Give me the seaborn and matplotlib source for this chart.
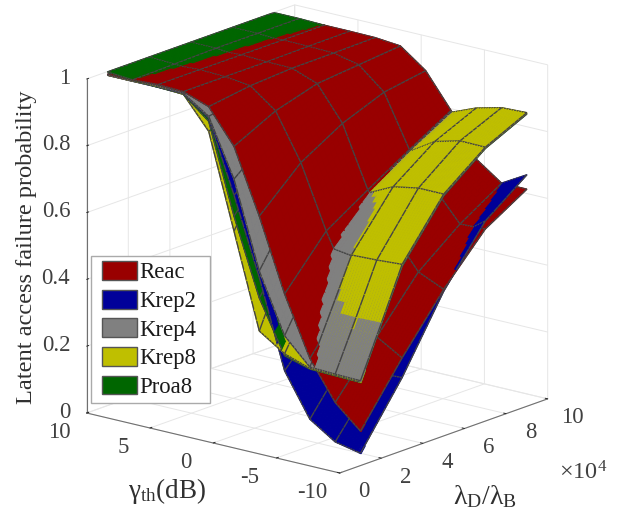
import numpy as np
import matplotlib
matplotlib.use("Agg")
import matplotlib.pyplot as plt
import seaborn as sns
from matplotlib.patches import Patch, Rectangle
from matplotlib.legend_handler import HandlerPatch
from mpl_toolkits.mplot3d import proj3d
from mpl_toolkits.mplot3d.art3d import Poly3DCollection, Line3DCollection

gamma_db = [-10, -8, -6, -4, -2, 0, 2, 4, 6, 8, 10]
lambda_ratio = [1, 3, 5, 7, 9]

reac = [[.103, .278, .439, .575, .650],
        [.171, .323, .473, .572, .650],
        [.285, .447, .569, .660, .704],
        [.460, .604, .683, .759, .832],
        [.675, .791, .864, .913, .933],
        [.866, .928, .965, .977, .989],
        [.967, .985, .993, .994, .996],
        [.994, .994, .994, .996, .997],
        [.997, .997, .997, .997, .997],
        [.993, .993, .993, .993, .993],
        [.992, .992, .992, .992, .992]]
krep2 = [[.037, .219, .433, .599, .693],
         [.053, .215, .407, .543, .650],
         [.103, .270, .427, .548, .660],
         [.230, .366, .508, .629, .731],
         [.491, .609, .690, .761, .812],
         [.720, .812, .872, .913, .933],
         [.933, .953, .963, .974, .984],
         [.989, .989, .989, .989, .989],
         [.989, .989, .989, .989, .989],
         [.989, .989, .989, .989, .989],
         [.989, .989, .989, .989, .989]]
krep4 = [[.254, .554, .721, .818, .877],
         [.256, .548, .722, .819, .874],
         [.259, .548, .702, .793, .849],
         [.335, .559, .674, .754, .827],
         [.511, .710, .791, .852, .893],
         [.768, .872, .913, .943, .963],
         [.938, .963, .979, .986, .989],
         [.989, .991, .991, .992, .994],
         [.994, .994, .994, .994, .994],
         [.990, .990, .990, .990, .990],
         [.990, .990, .990, .990, .990]]
krep8 = [[.250, .558, .724, .820, .879],
         [.252, .553, .724, .821, .876],
         [.255, .550, .710, .801, .857],
         [.281, .508, .673, .753, .826],
         [.331, .629, .751, .832, .872],
         [.612, .832, .893, .933, .953],
         [.893, .953, .974, .984, .984],
         [.986, .989, .989, .989, .989],
         [.991, .991, .991, .991, .991],
         [.989, .989, .989, .989, .989],
         [.989, .989, .989, .989, .989]]
proa8 = [[.249, .552, .719, .816, .875],
         [.251, .546, .720, .817, .872],
         [.253, .546, .700, .790, .846],
         [.275, .427, .559, .660, .741],
         [.430, .609, .731, .812, .862],
         [.657, .812, .882, .923, .953],
         [.923, .953, .968, .979, .984],
         [.986, .989, .989, .989, .989],
         [.989, .990, .991, .994, .997],
         [.993, .996, .999, .999, .999],
         [.999, .999, .999, .999, .999]]

series_names = ["Reac", "Krep2", "Krep4", "Krep8", "Proa8"]
series_values = [reac, krep2, krep4, krep8, proa8]
series_colors = ["#990000", "#000099", "#808080", "#BFBF00", "#006600"]

gamma_ticks = [10, 5, 0, -5, -10]
gamma_ticklabels = ["10", "5", "0", "-5", "-10"]
lambda_ticks = [0, 2, 4, 6, 8, 10]
lambda_ticklabels = ["0", "2", "4", "6", "8", "10"]
prob_ticks = [0, 0.2, 0.4, 0.6, 0.8, 1]
prob_ticklabels = ["0", "0.2", "0.4", "0.6", "0.8", "1"]

sns.set_theme(style="white")
plt.rcParams["font.family"] = ["Liberation Serif", "DejaVu Serif"]
plt.rcParams["mathtext.fontset"] = "custom"
plt.rcParams["mathtext.rm"] = "Liberation Serif"
plt.rcParams["mathtext.it"] = "Liberation Serif:italic"
plt.rcParams["mathtext.fallback"] = "stix"
plt.rcParams["grid.color"] = "#e6e6e6"
plt.rcParams["grid.linewidth"] = 0.7

W, H = 621, 512
TEXT = "#404040"
MESH = "#444444"
TICK_FS = 16.4
fig = plt.figure(figsize=(W / 100, H / 100), dpi=100, facecolor="white")
ax = fig.add_axes([0, 0, 1, 1], projection="3d", computed_zorder=False, proj_type="ortho")
ax.set_facecolor("none")
ax.view_init(elev=16.9, azim=-50.8)
ax.set_xlim(10, -10, view_margin=0)
ax.set_ylim(0, 10, view_margin=0)
ax.set_zlim(0, 1, view_margin=0)
aspect = (326.4, 329, 349)
ax.set_box_aspect(aspect, zoom=1.0)

# tessellate each bilinear patch so that surfaces intersect correctly
N = 10
g_arr = np.array(gamma_db, float)
l_arr = np.array(lambda_ratio, float)
g_f = np.concatenate([np.linspace(g_arr[k], g_arr[k + 1], N, endpoint=False) for k in range(len(g_arr) - 1)] + [[g_arr[-1]]])
l_f = np.concatenate([np.linspace(l_arr[k], l_arr[k + 1], N, endpoint=False) for k in range(len(l_arr) - 1)] + [[l_arr[-1]]])


def refine(values):
    v = np.asarray(values, float)
    a = np.array([np.interp(g_f, g_arr, v[:, j]) for j in range(v.shape[1])]).T
    return np.array([np.interp(l_f, l_arr, a[i, :]) for i in range(a.shape[0])])


fine = [refine(v) for v in series_values]
faces, fcols, lines = {}, {}, {}
ng, nl = len(g_f), len(l_f)
for ia in range(ng - 1):           # back (gamma=10) to front
    ib, jf_i = ng - 1 - ia, ng - 2 - ia
    for ja in range(nl - 1):       # back (lambda=9) to front
        lb, lf = nl - 1 - ja, nl - 2 - ja
        d = ia + ja
        zmean = [F[[ib, ib, jf_i, jf_i], [lb, lf, lf, lb]].mean() for F in fine]
        for rank, s in enumerate(np.argsort(zmean)):
            F = fine[s]
            P = lambda i, j: (g_f[i], l_f[j], F[i, j])
            key = (d, rank)
            faces.setdefault(key, []).append([P(ib, lb), P(ib, lf), P(jf_i, lf), P(jf_i, lb)])
            fcols.setdefault(key, []).append(series_colors[s])
            seg = lines.setdefault(key, [])
            if ib % N == 0:
                seg.append([P(ib, lb), P(ib, lf)])
            if lb % N == 0:
                seg.append([P(ib, lb), P(jf_i, lb)])
            if jf_i == 0:
                seg.append([P(jf_i, lb), P(jf_i, lf)])
            if lf == 0:
                seg.append([P(ib, lf), P(jf_i, lf)])

for (d, rank), polys in faces.items():
    c = fcols[(d, rank)]
    coll = Poly3DCollection(polys, facecolors=c, edgecolors=c, linewidths=0.8)
    coll.set_zorder(10 + d * 20 + rank * 2)
    ax.add_collection3d(coll, autolim=False)
    segs = lines[(d, rank)]
    if segs:
        lc = Line3DCollection(segs, colors=MESH, linewidths=1.0)
        lc.set_zorder(11 + d * 20 + rank * 2)
        ax.add_collection3d(lc, autolim=False)

# axes styling
for axis in (ax.xaxis, ax.yaxis, ax.zaxis):
    axis.set_pane_color((1, 1, 1, 0))
    axis.pane.set_edgecolor("#e6e6e6")
    axis.line.set_color("#707070")
    axis.line.set_linewidth(0.8)
    axis._axinfo["tick"]["color"] = "#555555"
    axis._axinfo["tick"]["linewidth"] = {True: 0.7, False: 0.5}
    axis._axinfo["tick"]["inward_factor"] = 0.0
    axis._axinfo["tick"]["outward_factor"] = 0.12
    axis.set_rotate_label(False)

ax.set_xticks(gamma_ticks)
ax.set_yticks(lambda_ticks)
ax.set_zticks(prob_ticks)
ax.set_xticklabels([])
ax.set_yticklabels([])
ax.set_zticklabels([])
ax.zaxis.set_ticks_position("lower")
ax.xaxis.set_ticks_position("lower")
ax.yaxis.set_ticks_position("lower")

# calibrate the box on the canvas
def px(g, l, z):
    X, Y, _ = proj3d.proj_transform(g, l, z, ax.get_proj())
    ax.apply_aspect()
    return ax.transData.transform((X, Y))


ax.apply_aspect()
h = px(10, 0, 1)[1] - px(10, 0, 0)[1]
ax.set_box_aspect(aspect, zoom=334.0 / h)
p = px(10, 0, 0)
dx, dy = (86.7 - p[0]) / W, ((H - 413) - p[1]) / H
ax.set_position([dx, dy, 1, 1])


def put(xy, off, label, **kw):
    fig.text((xy[0] + off[0]) / W, (xy[1] - off[1]) / H, label, fontsize=TICK_FS, color=TEXT,
             va="center", **kw)


for g, t in zip(gamma_ticks, gamma_ticklabels):
    put(px(g, 0, 0), (-27, 20), t, ha="center")
for l, t in zip(lambda_ticks, lambda_ticklabels):
    put(px(-10, l, 0), (24.5, 19), t, ha="center")
for z, t in zip(prob_ticks, prob_ticklabels):
    put(px(10, 0, z), (-16.5, -1), t, ha="right")

fig.text(27 / W, 1 - 247 / H, "Latent access failure probability", rotation=90,
         ha="center", va="center", fontsize=17.6, color="#303030")
fig.text(167 / W, 1 - 491 / H, r"$\mathrm{\gamma_{th}}$(dB)", ha="center", va="center",
         fontsize=19.5, color="#303030")
fig.text(485 / W, 1 - 497 / H, r"$\mathrm{\lambda_{D}/\lambda_{B}}$", ha="center", va="center",
         fontsize=20, color="#303030")
fig.text(583 / W, 1 - 473 / H, r"$\mathrm{\times10^{4}}$", ha="center", va="center",
         fontsize=17.5, color=TEXT)


def inset_patch(legend, orig_handle, xdescent, ydescent, width, height, fontsize):
    return Rectangle((-xdescent + 5, -ydescent), width - 5, height)


handles = [Patch(facecolor=c, edgecolor="#555555", linewidth=1.0) for c in series_colors]
fig.legend(handles, series_names, loc="upper left",
           bbox_to_anchor=(90.5 / W, 1 - 402 / H, 119 / W, 146 / H),
           bbox_transform=fig.transFigure, borderaxespad=0, fontsize=16.4, handlelength=1.8,
           handleheight=0.9, labelspacing=0.278, handletextpad=0.13, borderpad=0.22, mode="expand",
           handler_map={Patch: HandlerPatch(patch_func=inset_patch)},
           frameon=True, fancybox=False, edgecolor="#aaaaaa", framealpha=1, labelcolor="#1a1a1a")

fig.savefig("out.png", dpi=100, facecolor="white")
